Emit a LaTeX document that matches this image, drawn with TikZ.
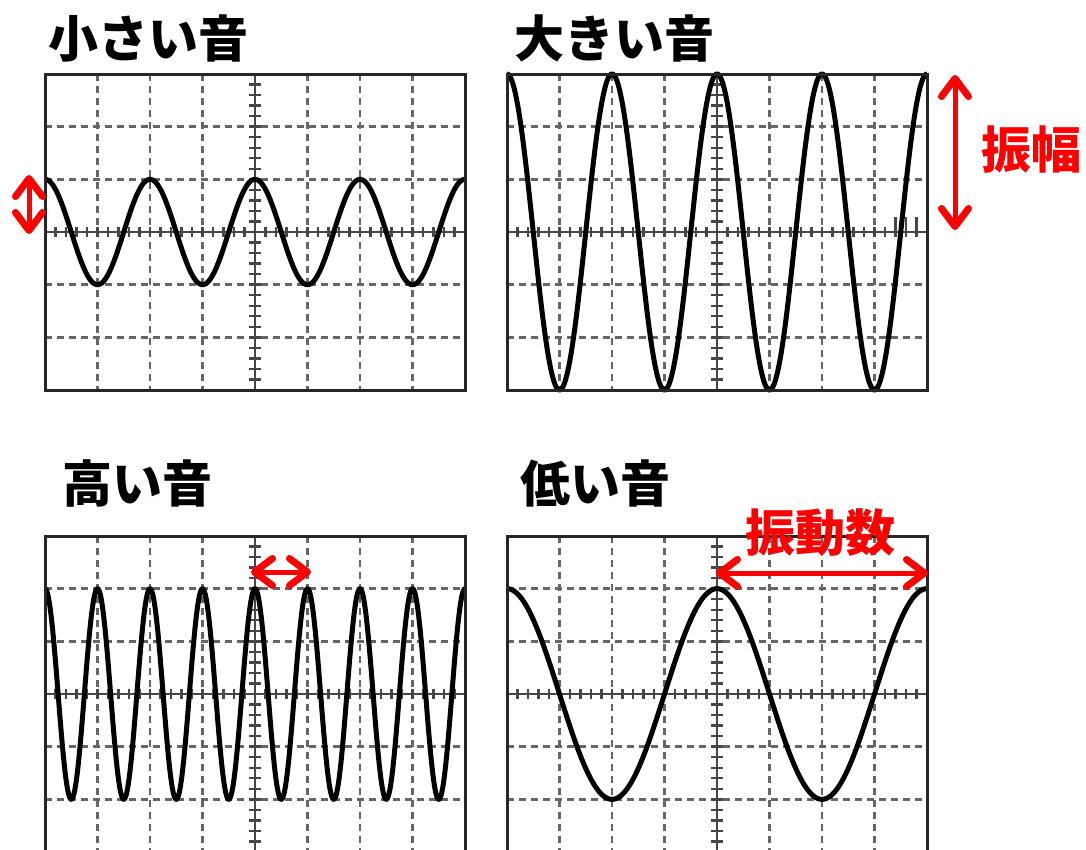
\documentclass[tikz,border=0pt]{standalone}
\usepackage{fontspec}
\newfontfamily\cjk{Noto Sans CJK JP}
\usetikzlibrary{arrows.meta}
\newcommand{\oscpanel}[2]{%
 \begin{scope}[shift={(#1,#2)}]
  \foreach \i in {1,2,3,5,6,7} \draw[gridline] (\i*52.5,0) -- (\i*52.5,316);
  \foreach \j in {1,2,4,5} \draw[gridline] (0,\j*52.667) -- (420,\j*52.667);
  \draw[axisline] (0,158) -- (420,158);
  \draw[axisline] (210,0) -- (210,316);
  \foreach \i in {1,...,39} \draw[axisline] (\i*10.5,153) -- (\i*10.5,163);
  \foreach \j in {1,...,29} \draw[axisline] (204,\j*10.533) -- (216,\j*10.533);
 \end{scope}}
\newcommand{\oscframe}[2]{\draw[frameline] (#1,#2) rectangle ++(420,316);}
\begin{document}
\begin{tikzpicture}[x=1pt,y=-1pt,
  gridline/.style={draw=black!60, line width=2.5pt, dash pattern=on 7pt off 5pt},
  axisline/.style={draw=black!72, line width=2.4pt},
  frameline/.style={draw=black!85, line width=3pt},
  wave/.style={draw=black, line width=5pt, line join=round},
  redarrow/.style={draw=red, line width=5pt,
    {Straight Barb[length=18pt,width=27pt,line width=7pt,round]}-{Straight Barb[length=18pt,width=27pt,line width=7pt,round]}},
  title/.style={font=\cjk\bfseries\fontsize{50}{54}\selectfont, anchor=west, inner sep=0pt},
  redlabel/.style={font=\cjk\bfseries\fontsize{50}{54}\selectfont, text=red, inner sep=0pt}]
\useasboundingbox (0,0) rectangle (1086,849);
\clip (0,0) rectangle (1086,849);

% panels
\oscpanel{45}{74}
\oscpanel{507}{74}
\oscpanel{45}{536}
\oscpanel{507}{536}
\draw[axisline] (895.5,217) -- (895.5,232) (906,217) -- (906,232) (916.5,217) -- (916.5,232);

% waves
\draw[wave] plot[domain=0:420,samples=421] ({45+\x},{232-52.67*cos(\x/105*360)});
\draw[wave] plot[domain=0:420,samples=841] ({507+\x},{232-158*cos(\x/105*360)});
\draw[wave] plot[domain=0:420,samples=841] ({45+\x},{694-105.33*cos(\x/52.5*360)});
\draw[wave] plot[domain=0:420,samples=421] ({507+\x},{694-105.33*cos(\x/210*360)});

\oscframe{45}{74}
\oscframe{507}{74}
\oscframe{45}{536}
\oscframe{507}{536}

% titles
\node[title] (t1) at (48,38) {小さい音};
\node[title] (t2) at (514,38) {大きい音};
\node[title] (t3) at (62,483) {高い音};
\node[title] (t4) at (520,483) {低い音};

% red annotations
\node[redlabel] (amp) at (1031,150) {振幅};
\node[redlabel] (freq) at (820,533) {振動数};
\coordinate (a1) at (29,175); \coordinate (a2) at (29,234);
\draw[redarrow] (a1) -- (a2);
\coordinate (b1) at (955,75); \coordinate (b2) at (955,230);
\draw[redarrow] (b1) -- (b2);
\coordinate (c1) at (251,572); \coordinate (c2) at (311,572);
\draw[redarrow] (c1) -- (c2);
\coordinate (d1) at (716,573); \coordinate (d2) at (928,573);
\draw[redarrow] (d1) -- (d2);
\end{tikzpicture}
\end{document}
